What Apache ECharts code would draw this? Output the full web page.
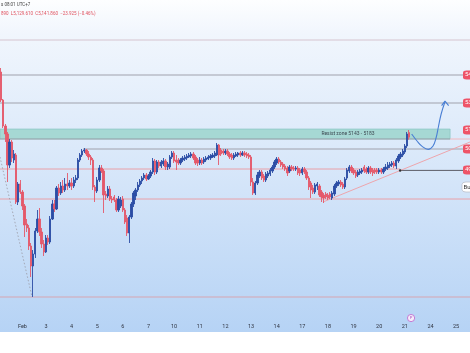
<!DOCTYPE html>
<html><head><meta charset="utf-8">
<script src="https://cdn.jsdelivr.net/npm/echarts@6/dist/echarts.min.js"></script>
<style>html,body{margin:0;padding:0;background:#fff;}#c{width:470px;height:353px;}</style>
</head><body><div id="c"></div>
<script>
// ---- data ----
const slotCount = 220; // 2h bars incl. empty future slots
const dayLabels = ['Feb','3','4','5','6','7','10','11','12','13','14','17','18','19','20','21','24','25'];
const dayStartIndex = [10,21,33,45,57,69,81,93,105,117,129,141,153,165,177,189,201,213];
// [open, close, low, high]
const candles = [
[5468,5328,5318,5488],[5328,5198,5188,5333],[5198,5158,5118,5208],[5158,5003,4918,5168],[5003,5118,4988,5133],
[5118,5038,5018,5128],[5028,5058,5013,5078],[5053,4818,4808,5063],[4818,4908,4803,4918],[4908,4868,4858,4928],
[4868,4798,4778,4878],[4798,4703,4643,4808],[4708,4688,4668,4733],[4688,4598,4578,4703],[4598,4498,4443,4613],
[4498,4558,4343,4578],[4558,4673,4538,4688],[4673,4733,4663,4778],[4733,4668,4648,4788],[4668,4608,4588,4688],
[4608,4568,4548,4628],[4568,4638,4563,4653],[4638,4618,4603,4653],[4618,4733,4608,4748],[4733,4808,4728,4828],
[4808,4783,4768,4828],[4783,4888,4778,4898],[4888,4863,4848,4908],[4863,4898,4853,4918],[4898,4878,4863,4928],
[4878,4908,4868,4938],[4908,4898,4878,4963],[4898,4913,4888,4928],[4913,4898,4878,4938],[4898,4928,4888,4943],
[4928,4938,4913,4953],[4938,5028,4928,5038],[5028,5053,5018,5063],[5053,5073,5043,5083],[5073,5078,5063,5088],
[5078,5058,5048,5083],[5058,5043,5028,5073],[5043,5028,5003,5053],[5028,4893,4878,5038],[4893,4873,4818,4903],
[4873,4928,4863,4943],[4928,4988,4918,5003],[4988,4973,4963,5003],[4973,4853,4763,4983],[4858,4848,4828,4873],
[4848,4883,4838,4898],[4883,4833,4823,4898],[4833,4828,4813,4848],[4843,4828,4818,4853],[4828,4778,4768,4838],
[4778,4833,4768,4848],[4798,4828,4788,4843],[4833,4778,4768,4848],[4778,4718,4708,4788],[4738,4663,4648,4753],
[4663,4743,4613,4753],[4743,4808,4733,4818],[4808,4863,4793,4873],[4848,4878,4828,4888],[4878,4903,4868,4918],
[4903,4923,4893,4933],[4923,4938,4908,4948],[4938,4953,4928,4963],[4953,4933,4923,4963],[4933,4948,4928,4958],
[4948,4968,4938,4978],[4968,5023,4958,5038],[5023,4968,4953,5033],[4968,5018,4958,5028],[5018,4998,4988,5028],
[4998,5018,4988,5028],[5008,5023,4998,5038],[5023,4993,4978,5033],[4993,5008,4978,5018],[4993,5043,4983,5053],
[5043,5063,5033,5073],[5063,5023,5013,5073],[5028,5018,4978,5053],[5028,5013,5003,5038],[5013,5028,5003,5038],
[5028,5038,5018,5048],[5033,5043,5023,5053],[5038,5048,5028,5058],[5043,5053,5038,5063],[5048,5058,5038,5068],
[5058,5038,5028,5068],[5043,5013,5003,5053],[5028,5013,4998,5038],[5013,5028,5003,5043],[5028,5013,5003,5038],
[5018,5033,5008,5043],[5028,5038,5018,5048],[5033,5043,5028,5053],[5038,5048,5028,5058],[5043,5053,5038,5063],
[5048,5063,5038,5073],[5053,5103,5048,5113],[5103,5053,5003,5108],[5078,5058,5048,5088],[5073,5063,5053,5083],
[5063,5073,5053,5083],[5073,5058,5048,5083],[5058,5043,5033,5068],[5053,5038,5028,5063],[5038,5053,5028,5063],
[5048,5058,5043,5068],[5053,5063,5043,5068],[5063,5053,5043,5073],[5053,5063,5048,5073],[5063,5053,5043,5073],
[5058,5048,5038,5068],[5053,5043,5033,5063],[5043,4918,4898,5053],[4918,4863,4853,4938],[4863,4913,4853,4923],
[4913,4953,4903,4968],[4948,4968,4938,4978],[4968,4938,4928,4978],[4948,4928,4918,4958],[4928,4958,4918,4968],
[4948,4963,4938,4973],[4958,4978,4948,4988],[4973,4993,4963,5003],[4993,5018,4983,5028],[5013,5033,5003,5043],
[5033,5018,5008,5043],[5018,5003,4993,5028],[5008,4993,4983,5018],[4998,4983,4973,5008],[4988,4963,4948,4998],
[4973,4993,4963,5003],[4993,4983,4973,5003],[4988,4983,4973,4998],[4983,4988,4973,4998],[4988,4963,4953,4998],
[4978,4963,4948,4988],[4963,4983,4953,4993],[4983,4968,4958,4993],[4968,4938,4928,4978],[4938,4893,4878,4948],
[4913,4878,4838,4923],[4888,4868,4858,4903],[4868,4903,4858,4913],[4898,4908,4878,4918],[4898,4853,4843,4908],
[4868,4843,4818,4878],[4853,4838,4813,4863],[4858,4843,4833,4868],[4853,4838,4828,4863],[4858,4843,4833,4868],
[4838,4863,4828,4873],[4858,4898,4848,4908],[4898,4913,4888,4923],[4908,4918,4898,4928],[4918,4903,4893,4928],
[4908,4893,4883,4918],[4893,4933,4883,4943],[4938,4978,4928,4988],[4973,4993,4963,5003],[4993,4973,4963,5003],
[4978,4963,4953,4988],[4968,4948,4938,4978],[4953,4968,4943,4978],[4963,4973,4953,4983],[4968,4978,4958,4988],
[4993,4973,4963,5003],[4983,4968,4958,4993],[4968,4988,4958,4998],[4988,4968,4958,4998],[4978,4963,4948,4988],
[4978,4968,4958,4988],[4978,4968,4958,4988],[4968,4978,4958,4988],[4978,4968,4958,4988],[4968,4983,4958,4993],
[4983,4993,4973,5008],[4988,5003,4978,5018],[4998,5008,4988,5018],[5003,5013,4993,5023],[5013,4998,4988,5023],
[4998,5028,4983,5038],[5023,5048,5013,5058],[5043,5058,5033,5068],[5053,5073,5043,5083],[5068,5098,5058,5108],
[5098,5158,5088,5168],[5165,5141.86,5129.61,5178]
];
// levels (price)
const topLevel = 5628;
const targetHigh = 5453;
const targetMid = 5313;
const zoneTop = 5183, zoneBottom = 5133;
const prevHigh = 5083;
const supportLevel = 4983;
const supportEnd = 4976;
const lowerSupport = 4833;
const bottomLevel = 4343;
const trendLine = [[150.7,4818],[219.5,5118]];
const dropLine = [[-0.5,5043],[14.5,4343]];
const projection = [[192.2,5158],[194.7,5123],[197.1,5096],[199.9,5081],[202.2,5098],[203.6,5138],[204.7,5193],[206.0,5258],[207.8,5319]];
const arrowHead = [[206.2,5300],[207.8,5322],[209.5,5300]];
const badgePrices = [5453.07, 5313.21, 5178.35, 5083.44, 4978.62];
const zoneText = 'Resist zone 5143 - 5183';
const headerLine1 = 's 08:01 UTC+7';
const headerLine2 = '890  L5,129.610  C5,141.860  \u221223.925 (\u22120.46%)';

// ---- chart ----
const labelMap = {};
dayStartIndex.forEach((k, j) => { labelMap[k] = dayLabels[j]; });
const categories = Array.from({length: slotCount}, (_, i) => 'b' + i);
const XL = -0.5, XR = slotCount - 0.5;

const chart = echarts.init(document.getElementById('c'), null, {renderer: 'canvas'});

function hline(v, x0, x1, color, width, type) {
  return {type: 'line', xAxisIndex: 1, yAxisIndex: 0, data: [[x0, v], [x1, v]], symbol: 'none',
    silent: true, animation: false, lineStyle: {color: color, width: width, type: type || 'solid'}, z: 1};
}
function pline(pts, color, width, type, smooth) {
  return {type: 'line', xAxisIndex: 1, yAxisIndex: 0, data: pts, symbol: 'none', smooth: smooth || false,
    silent: true, animation: false, lineStyle: {color: color, width: width, type: type || 'solid'}, z: 4};
}

const series = [
  {
    type: 'scatter', xAxisIndex: 1, yAxisIndex: 0, data: [], silent: true, animation: false, z: 0,
    markArea: {silent: true, itemStyle: {color: '#a6d8d4', borderColor: '#84c4bf', borderWidth: 0.6},
      data: [[{coord: [XL, zoneTop]}, {coord: [210.2, zoneBottom]}]]}
  },
  hline(topLevel, XL, XR, '#d6c4cf', 1),
  hline(targetHigh, XL, XR, '#a0a1ac', 1),
  hline(targetMid, XL, XR, '#a0a1ac', 1),
  hline(zoneBottom, XL, 210.2, '#9ca1aa', 1),
  hline(zoneBottom, 210.2, XR, '#f2b8bf', 1),
  hline(prevHigh, 38.4, XR, '#a0a1ac', 1),
  hline(supportLevel, XL, 186.8, '#e9a0a8', 1),
  hline(supportEnd, 186.8, XR, '#5c5c66', 1),
  hline(lowerSupport, XL, XR, '#e9a0a8', 1),
  hline(bottomLevel, XL, XR, '#d6a5b1', 1),
  pline(trendLine, '#eda5ac', 1),
  pline(dropLine, '#9a9aa4', 0.8, [1.5, 2]),
  {
    type: 'candlestick', xAxisIndex: 0, yAxisIndex: 0, data: candles, barWidth: 1.9, z: 5,
    silent: true, animation: false,
    itemStyle: {color: '#2b4da5', color0: '#e4586a', borderColor: '#2b4da5', borderColor0: '#e4586a', borderWidth: 0.9}
  },
  pline(projection, '#4a7fd4', 1.1, 'solid', 0.4),
  pline(arrowHead, '#4a7fd4', 1.1),
  {
    type: 'scatter', xAxisIndex: 1, yAxisIndex: 0, data: [], silent: true, animation: false, z: 6,
    markPoint: {
      silent: true, animation: false,
      data: badgePrices.map(p => ({coord: [XR, p], value: p})).concat([
        {coord: [XR, 4893], value: 'Buy', symbol: 'roundRect', symbolSize: [16, 10],
          itemStyle: {color: '#ffffff', borderColor: '#b8bcc6', borderWidth: 0.7},
          label: {color: '#333', formatter: 'Buy'}},
        {coord: [162.4, 5158], value: zoneText, symbol: 'rect', symbolSize: [1, 1],
          itemStyle: {color: 'rgba(0,0,0,0)'},
          label: {position: 'inside', color: '#3d4a52', fontSize: 5, formatter: zoneText}},
        {coord: [186.8, 4976], value: 0, symbol: 'circle', symbolSize: 2.5,
          itemStyle: {color: '#333'}, label: {show: false}}
      ]),
      symbol: 'roundRect', symbolSize: [14, 9],
      itemStyle: {color: '#ee5468'},
      label: {show: true, position: 'insideLeft', distance: 2, color: '#fff', fontSize: 6,
        fontFamily: 'Roboto', formatter: p => (typeof p.value === 'number' ? p.value.toFixed(2) : p.value)}
    }
  }
];

chart.setOption({
  animation: false,
  textStyle: {fontFamily: 'Roboto'},
  graphic: [
    {type: 'rect', shape: {x: 0, y: 0, width: 470, height: 332}, z: -10, silent: true,
      style: {fill: new echarts.graphic.LinearGradient(0, 0, 0, 1, [
        {offset: 0, color: '#fdfeff'}, {offset: 0.1, color: '#f1f6fd'}, {offset: 0.45, color: '#dbe9fa'},
        {offset: 1, color: '#b6d3f5'}])}},
    {type: 'text', left: 1, top: 2, silent: true, z: 10,
      style: {text: headerLine1, fontSize: 4.5, fill: '#444', fontFamily: 'Roboto'}},
    {type: 'text', left: 1, top: 11, silent: true, z: 10,
      style: {text: headerLine2, fontSize: 4.5, fill: '#e0505e', fontFamily: 'Roboto'}},
    {type: 'group', left: 407, top: 314, silent: true, z: 10, children: [
      {type: 'circle', shape: {cx: 4, cy: 4, r: 3.6}, style: {fill: '#f6ecfa', stroke: '#bf6fd0', lineWidth: 0.9}},
      {type: 'text', style: {text: 'P', x: 4, y: 4, fontSize: 4, fill: '#a24fbc', align: 'center', verticalAlign: 'middle'}}
    ]}
  ],
  grid: {left: 0, right: 0, top: 0, bottom: 43, containLabel: false},
  xAxis: [
    {type: 'category', data: categories, boundaryGap: true, gridIndex: 0,
      axisLine: {show: false}, axisTick: {show: false}, splitLine: {show: false},
      axisLabel: {show: true, margin: 14, fontSize: 5.5, color: '#2f3440', fontFamily: 'Roboto',
        hideOverlap: false,
        interval: (i) => labelMap[i] !== undefined,
        formatter: (v, i) => labelMap[i] || ''}},
    {type: 'value', min: XL, max: XR, show: false, gridIndex: 0}
  ],
  yAxis: [{type: 'value', min: 4278, max: 5828, show: false, scale: true}],
  series: series
});
</script></body></html>
